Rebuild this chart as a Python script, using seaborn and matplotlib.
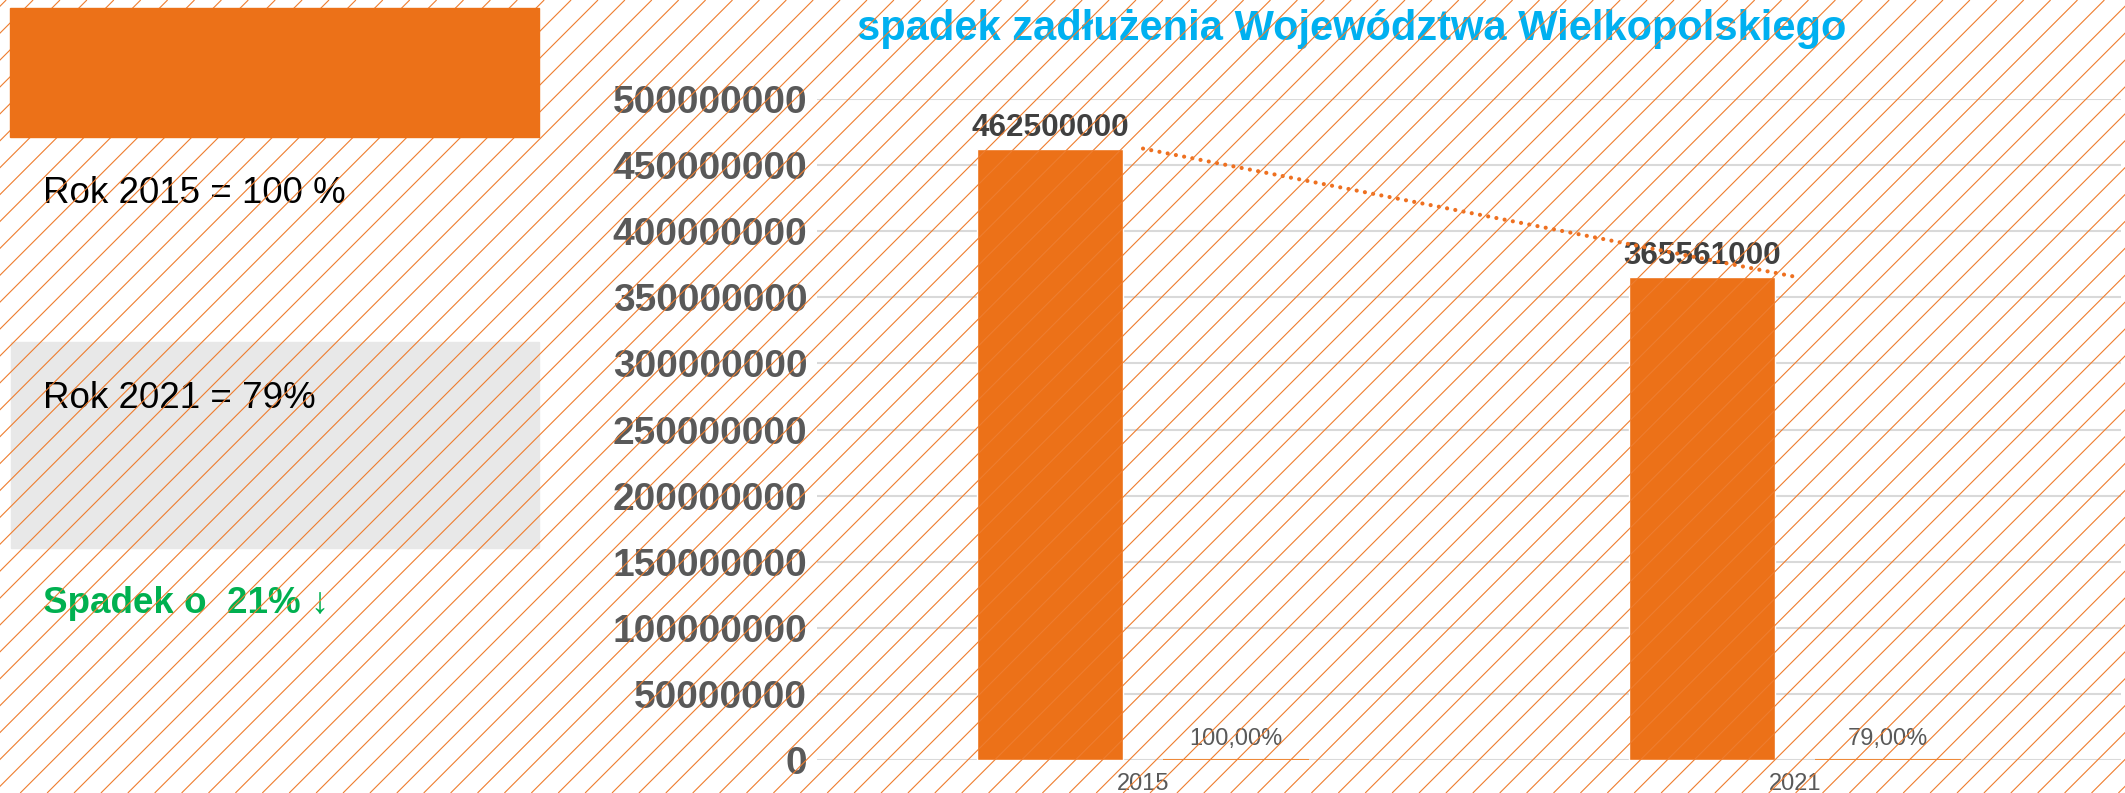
# %%
# Spadek zadłużenia Województwa Wielkopolskiego - wykres słupkowy
import numpy as np
import pandas as pd
import matplotlib
matplotlib.use('Agg')
import matplotlib.pyplot as plt
import seaborn as sns
from matplotlib.patches import Rectangle
from matplotlib.collections import LineCollection

# %%
# Dane
lata = ['2015', '2021']
zadluzenie = [462500000, 365561000]
procent = [1.00, 0.79]
y_ticks = [0, 50000000, 100000000, 150000000, 200000000, 250000000,
           300000000, 350000000, 400000000, 450000000, 500000000]

tytul = 'spadek zadłużenia Województwa Wielkopolskiego'
tekst_2015 = 'Rok 2015 = 100 %'
tekst_2021 = 'Rok 2021 = 79%'
tekst_spadek = 'Spadek o  21% ↓'

df = pd.DataFrame({
    'Rok': lata * 2,
    'Seria': ['Zadłużenie'] * len(lata) + ['Procent'] * len(lata),
    'Wartość': zadluzenie + procent,
})

# %%
# Styl
sns.set_theme(style='white')
plt.rcParams['font.family'] = ['Liberation Sans', 'DejaVu Sans']

orange = '#EC7118'
grey_txt = '#595959'
W, H = 2125, 793

fig = plt.figure(figsize=(W / 100, H / 100), dpi=100)

# Tło (szary prostokąt pod kreskowaniem)
bg = fig.add_axes([0, 0, 1, 1], zorder=-1)
bg.set_xlim(0, W)
bg.set_ylim(H, 0)
bg.axis('off')
bg.add_patch(Rectangle((11, 342), 528, 206, color='#E8E8E8'))

# %%
# Wykres główny
ax = fig.add_axes([817 / W, 1 - 760 / H, 1304 / W, 661 / H])
ax.set_facecolor('none')
sns.barplot(data=df, x='Rok', y='Wartość', hue='Seria', palette=[orange, orange],
            saturation=1, width=0.5704, gap=0.2146, errorbar=None, legend=False, ax=ax)

# Seria procentowa - tylko cienka linia przy zerze
for p in ax.containers[1]:
    p.set_edgecolor('#EE8A3A')
    p.set_linewidth(1.5)
    p.set_zorder(3)

ax.bar_label(ax.containers[0], labels=[f'{v:d}' for v in zadluzenie],
             padding=4, fontsize=22.7, fontweight='bold', color='#404040')
ax.bar_label(ax.containers[1], labels=[f'{v * 100:.2f}%'.replace('.', ',') for v in procent],
             padding=7, fontsize=17, color=grey_txt)

# Linia trendu (kropkowana)
ax.plot(range(len(lata)), zadluzenie, ls=(0, (0.01, 2.0)), lw=3.0, color='#EE7020',
        dash_capstyle='round', zorder=5)

ax.set_xlim(-0.5, len(lata) - 0.5)
ax.set_ylim(0, 500000000)
ax.set_yticks(y_ticks)
ax.set_yticklabels([str(t) for t in y_ticks], fontweight='bold')
ax.tick_params(axis='y', length=0, pad=7, labelsize=28, labelcolor=grey_txt)
ax.tick_params(axis='x', length=0, pad=9, labelsize=17, labelcolor=grey_txt)
ax.grid(axis='y', color='#D9D9D9', lw=1.5)
ax.grid(axis='x', visible=False)
ax.set_axisbelow(True)
ax.set_xlabel('')
ax.set_ylabel('')
sns.despine(ax=ax, left=True, bottom=True)

# %%
# Teksty
fig.text(1352 / W, 1 - 40 / H, tytul, ha='center', va='baseline',
         fontsize=30, fontweight='bold', color='#00B0F0')
fig.text(43 / W, 1 - 203 / H, tekst_2015, va='baseline', fontsize=26.5, color='black')
fig.text(43 / W, 1 - 408 / H, tekst_2021, va='baseline', fontsize=26.5, color='black')
fig.text(43 / W, 1 - 613 / H, tekst_spadek, va='baseline', fontsize=26.5,
         fontweight='bold', color='#00B050')

# %%
# Kreskowanie na wierzchu + pomarańczowy prostokąt
ov = fig.add_axes([0, 0, 1, 1], zorder=10)
ov.set_xlim(0, W)
ov.set_ylim(H, 0)
ov.axis('off')
ov.patch.set_alpha(0)
segs = [[(c, 0), (c - H, H)] for c in np.arange(6.2, W + H, 26.9)]
ov.add_collection(LineCollection(segs, colors='#EE7D2F', linewidths=0.8))
ov.add_patch(Rectangle((10, 8), 529, 129, color=orange, zorder=3))

fig.savefig('out.png', dpi=100)
